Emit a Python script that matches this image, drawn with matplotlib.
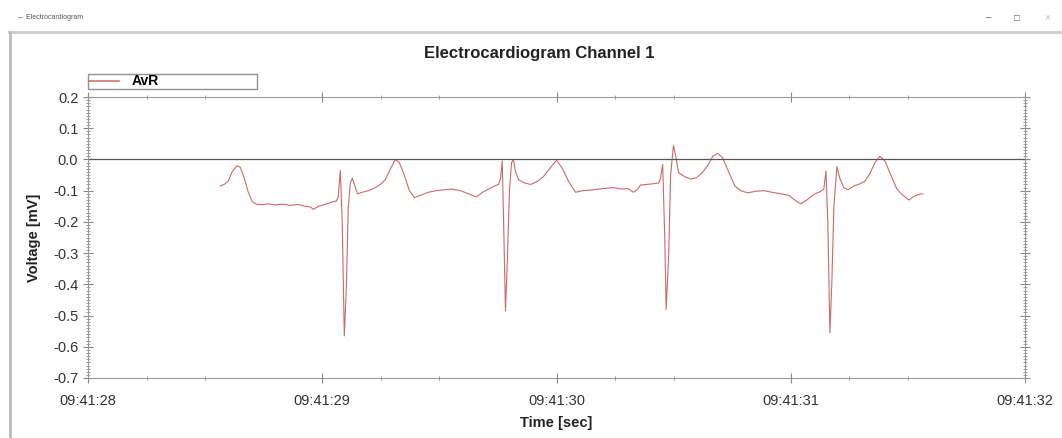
import numpy as np
import matplotlib.pyplot as plt
from matplotlib.ticker import MultipleLocator, FixedLocator, FuncFormatter

# seconds after 09:41:00
t = [28.564, 28.581, 28.598, 28.615, 28.635, 28.650, 28.667, 28.684, 28.701, 28.718,
     28.744, 28.769, 28.799, 28.829, 28.863, 28.897, 28.927, 28.949, 28.962, 28.983,
     29.009, 29.034, 29.060, 29.068, 29.077, 29.085, 29.094, 29.103, 29.111, 29.120,
     29.128, 29.137, 29.150, 29.171, 29.197, 29.222, 29.248, 29.269, 29.291, 29.312,
     29.329, 29.350, 29.372, 29.393, 29.419, 29.453, 29.487, 29.521, 29.556, 29.590,
     29.624, 29.658, 29.684, 29.709, 29.735, 29.752, 29.761, 29.768, 29.774, 29.782,
     29.791, 29.799, 29.808, 29.816, 29.825, 29.838, 29.863, 29.889, 29.919, 29.944,
     29.970, 30.000, 30.026, 30.051, 30.081, 30.111, 30.145, 30.179, 30.214, 30.244,
     30.274, 30.303, 30.329, 30.346, 30.359, 30.385, 30.410, 30.436, 30.444, 30.453,
     30.462, 30.468, 30.479, 30.487, 30.499, 30.509, 30.521, 30.547, 30.573, 30.598,
     30.624, 30.645, 30.667, 30.688, 30.709, 30.735, 30.761, 30.786, 30.816, 30.850,
     30.885, 30.919, 30.957, 30.991, 31.026, 31.043, 31.068, 31.098, 31.128, 31.141,
     31.150, 31.158, 31.167, 31.175, 31.184, 31.197, 31.209, 31.226, 31.244, 31.269,
     31.295, 31.316, 31.338, 31.359, 31.380, 31.402, 31.427, 31.453, 31.479, 31.504,
     31.526, 31.547, 31.564]

avr = [-0.085, -0.080, -0.070, -0.040, -0.020, -0.025, -0.060, -0.105, -0.135, -0.143,
       -0.145, -0.142, -0.146, -0.143, -0.147, -0.144, -0.150, -0.152, -0.160, -0.150,
       -0.145, -0.138, -0.133, -0.120, -0.035, -0.200, -0.565, -0.400, -0.150, -0.075,
       -0.060, -0.080, -0.110, -0.105, -0.100, -0.092, -0.080, -0.065, -0.030, 0.000,
       -0.010, -0.050, -0.100, -0.122, -0.115, -0.105, -0.100, -0.097, -0.095, -0.100,
       -0.110, -0.120, -0.105, -0.095, -0.085, -0.080, -0.060, -0.005, -0.200, -0.485,
       -0.300, -0.100, -0.010, 0.000, -0.040, -0.065, -0.075, -0.080, -0.070, -0.055,
       -0.030, -0.002, -0.030, -0.070, -0.105, -0.100, -0.098, -0.095, -0.092, -0.090,
       -0.095, -0.093, -0.105, -0.095, -0.082, -0.080, -0.078, -0.075, -0.060, -0.016,
       -0.250, -0.480, -0.300, -0.050, 0.045, 0.010, -0.043, -0.055, -0.063, -0.058,
       -0.040, -0.020, 0.010, 0.020, 0.005, -0.040, -0.085, -0.100, -0.107, -0.102,
       -0.100, -0.105, -0.110, -0.115, -0.135, -0.142, -0.130, -0.112, -0.102, -0.095,
       -0.037, -0.200, -0.555, -0.400, -0.150, -0.023, -0.060, -0.090, -0.097, -0.085,
       -0.078, -0.070, -0.045, -0.010, 0.010, -0.005, -0.050, -0.095, -0.115, -0.130,
       -0.118, -0.112, -0.110]

plt.rcParams['font.family'] = ['Liberation Sans', 'DejaVu Sans']

fig = plt.figure(figsize=(10.62, 4.38), dpi=100)
ax = fig.add_axes([0.0829, 0.137, 0.8823, 0.6415])

ax.plot(t, avr, color='#c96a6a', lw=0.8, label='AvR')
ax.axhline(0, color='#555555', lw=0.9)

ax.set_xlim(28, 32)
ax.set_ylim(-0.7, 0.2)
ax.xaxis.set_major_locator(MultipleLocator(1))
# the source only puts minor ticks at +0.25 and +0.5 s
ax.xaxis.set_minor_locator(FixedLocator([s + f for s in range(28, 32) for f in (0.25, 0.5)]))
ax.yaxis.set_major_locator(MultipleLocator(0.1))
ax.yaxis.set_minor_locator(MultipleLocator(0.01))
ax.xaxis.set_major_formatter(FuncFormatter(lambda v, p: "09:41:%02d" % int(round(v))))
ax.yaxis.set_major_formatter(FuncFormatter(lambda v, p: "%.1f" % v))

ax.tick_params(which='both', direction='inout', colors='#888888', labelcolor='#333333',
               labelsize=10.5, top=True, right=True)
ax.tick_params(which='major', length=7)
ax.tick_params(which='minor', length=3)
ax.tick_params(axis='x', which='major', pad=8)
for s in ax.spines.values():
    s.set_color('#999999')

ax.set_xlabel('Time [sec]', fontsize=10.5, fontweight='bold', color='#222222', labelpad=6)
ax.set_ylabel('Voltage [mV]', fontsize=10.5, fontweight='bold', color='#222222', labelpad=9)
fig.text(0.5075, 0.878, 'Electrocardiogram Channel 1', fontsize=12, fontweight='bold',
         color='#222222', ha='center', va='center')

leg = ax.legend(loc='lower left', bbox_to_anchor=(0, 1.028, 0.1804, 0.057), mode='expand',
                borderaxespad=0, frameon=True, fancybox=False, fontsize=10,
                borderpad=0.05, handlelength=2.2, handletextpad=0.9)
leg.get_frame().set_edgecolor('#777777')
for line in leg.get_lines():
    line.set_linewidth(1.1)
for txt in leg.get_texts():
    txt.set_fontweight('bold')

# window chrome from the screenshot
fig.text(0.016, 0.957, '\u2190 Electrocardiogram', fontsize=5, color='#555555')
fig.text(0.928, 0.955, '\u2013', fontsize=7, color='#666666')
fig.text(0.955, 0.953, '\u25a1', fontsize=7, color='#666666')
fig.text(0.983, 0.953, '\u00d7', fontsize=7, color='#bbbbbb')
fig.add_artist(plt.Line2D([0.0085, 1], [0.927, 0.927], color='#cccccc', lw=2))
fig.add_artist(plt.Line2D([0.0095, 0.0095], [0, 0.927], color='#bbbbbb', lw=2))

fig.savefig('out.png', dpi=100)
